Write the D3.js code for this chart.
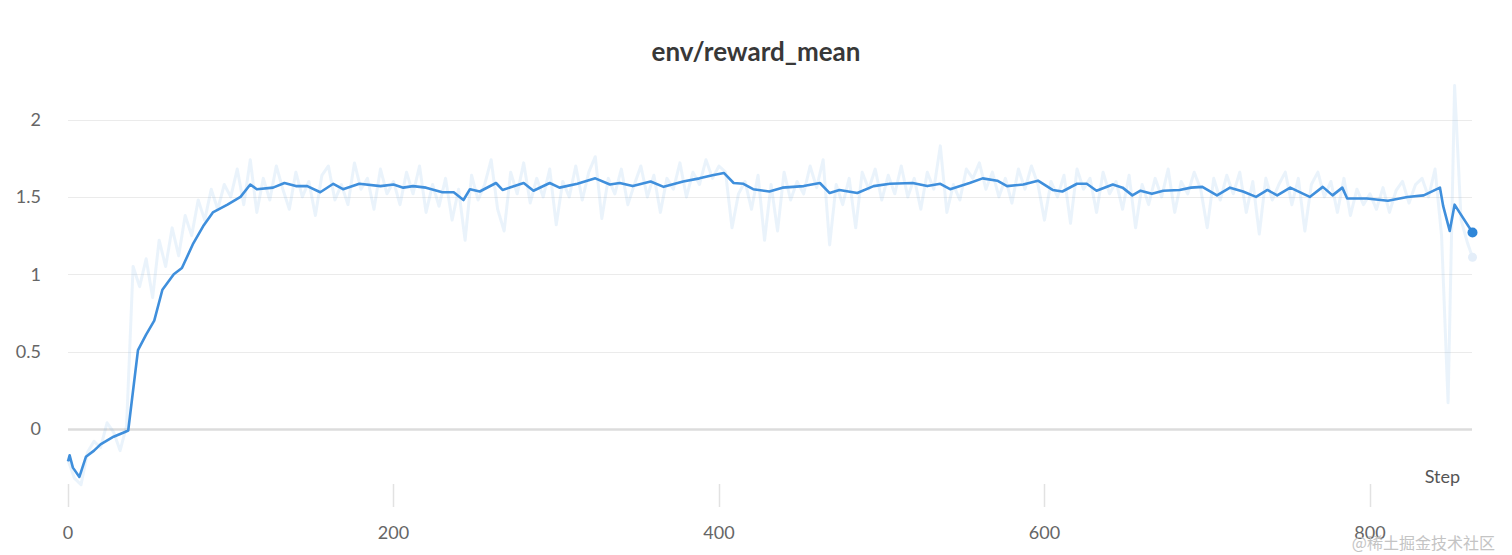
<!DOCTYPE html>
<meta charset="utf-8">
<head>
  <style>
    body { margin: 0; background: #fff; }
    .title { font-family: Lato, "Noto Sans", sans-serif; font-weight: bold; font-size: 26px; fill: #383838; }
    .tick-label { font-family: Lato, "Noto Sans", sans-serif; font-size: 18px; fill: #666; }
  </style>
  <script src="https://cdn.jsdelivr.net/npm/d3@7"></script>
</head>
<body>
<script>

var width = 1512, height = 555;

// smoothed line (step, value)
var smoothSteps = [0, 1, 3, 7, 11, 16, 20, 28, 35, 37, 43, 48, 53, 58, 65, 70, 77, 83, 89, 98,
  106, 112, 116, 126, 133, 140, 147, 155, 163, 169, 179, 192, 200, 206, 212, 220, 230, 237, 243, 247,
  253, 263, 267, 280, 286, 296, 302, 313, 324, 333, 339, 347, 358, 366, 378, 388, 396, 403, 409, 415,
  421, 431, 439, 452, 462, 468, 474, 485, 495, 505, 519, 528, 536, 542, 554, 562, 571, 577, 587, 596,
  605, 611, 620, 626, 632, 642, 648, 654, 659, 666, 673, 683, 690, 697, 706, 714, 722, 730, 737, 743,
  751, 763, 771, 777, 783, 786, 798, 811, 823, 833, 843, 845, 849, 852, 855, 863];
var smoothValues = [-0.21, -0.17, -0.25, -0.31, -0.18, -0.14, -0.10, -0.05, -0.02, -0.01, 0.51, 0.61, 0.70, 0.90, 1.00, 1.04, 1.20, 1.31, 1.40, 1.45,
  1.50, 1.58, 1.55, 1.56, 1.59, 1.57, 1.57, 1.53, 1.585, 1.55, 1.585, 1.57, 1.58, 1.56, 1.57, 1.56, 1.53, 1.53, 1.48, 1.55,
  1.535, 1.59, 1.545, 1.59, 1.54, 1.59, 1.56, 1.585, 1.62, 1.58, 1.59, 1.57, 1.60, 1.565, 1.60, 1.62, 1.64, 1.655, 1.59, 1.585,
  1.55, 1.535, 1.56, 1.57, 1.59, 1.525, 1.545, 1.525, 1.57, 1.585, 1.59, 1.57, 1.585, 1.55, 1.59, 1.62, 1.605, 1.57, 1.58, 1.605,
  1.545, 1.535, 1.585, 1.585, 1.54, 1.58, 1.56, 1.51, 1.54, 1.52, 1.54, 1.545, 1.56, 1.565, 1.51, 1.56, 1.535, 1.50, 1.545, 1.51,
  1.56, 1.50, 1.565, 1.51, 1.56, 1.49, 1.49, 1.475, 1.50, 1.51, 1.56, 1.44, 1.28, 1.45, 1.40, 1.27];

// raw (unsmoothed) values, one every 4 steps from step 0, plus the last step
var rawEvery = 4;
var rawValues = [
  -0.20, -0.32, -0.36, -0.15, -0.08, -0.12, 0.04, -0.02, -0.14, 0.02,
  1.05, 0.92, 1.10, 0.85, 1.22, 1.05, 1.30, 1.12, 1.38, 1.25,
  1.48, 1.35, 1.55, 1.42, 1.58, 1.50, 1.68, 1.45, 1.74, 1.40,
  1.62, 1.48, 1.70, 1.55, 1.42, 1.66, 1.50, 1.60, 1.38, 1.64,
  1.70, 1.48, 1.58, 1.45, 1.72, 1.55, 1.62, 1.42, 1.68, 1.52,
  1.60, 1.45, 1.66, 1.52, 1.70, 1.40, 1.58, 1.44, 1.62, 1.35,
  1.55, 1.22, 1.64, 1.48, 1.58, 1.74, 1.42, 1.28, 1.66, 1.52,
  1.72, 1.46, 1.62, 1.50, 1.68, 1.32, 1.60, 1.50, 1.70, 1.48,
  1.66, 1.76, 1.36, 1.62, 1.52, 1.68, 1.45, 1.58, 1.70, 1.50,
  1.64, 1.40, 1.62, 1.55, 1.72, 1.50, 1.66, 1.58, 1.74, 1.62,
  1.70, 1.66, 1.30, 1.52, 1.60, 1.42, 1.64, 1.22, 1.58, 1.28,
  1.66, 1.48, 1.60, 1.52, 1.70, 1.56, 1.74, 1.19, 1.58, 1.45,
  1.62, 1.30, 1.66, 1.55, 1.68, 1.48, 1.64, 1.52, 1.70, 1.50,
  1.62, 1.42, 1.66, 1.55, 1.83, 1.40, 1.58, 1.48, 1.68, 1.62,
  1.72, 1.55, 1.66, 1.50, 1.62, 1.46, 1.68, 1.55, 1.70, 1.58,
  1.35, 1.60, 1.50, 1.64, 1.33, 1.68, 1.55, 1.62, 1.40, 1.66,
  1.52, 1.60, 1.42, 1.64, 1.30, 1.58, 1.45, 1.62, 1.50, 1.68,
  1.40, 1.60, 1.52, 1.66, 1.55, 1.30, 1.62, 1.48, 1.64, 1.52,
  1.66, 1.40, 1.60, 1.26, 1.62, 1.48, 1.58, 1.66, 1.45, 1.62,
  1.28, 1.58, 1.66, 1.50, 1.60, 1.40, 1.62, 1.38, 1.55, 1.45,
  1.52, 1.42, 1.56, 1.40, 1.54, 1.60, 1.46, 1.58, 1.62, 1.50,
  1.68, 1.25, 0.17, 2.22, 1.35, 1.20];
var rawLastStep = 863, rawLastValue = 1.11;

var yTicks = [0, 0.5, 1, 1.5, 2];
var xTicks = [0, 200, 400, 600, 800];

var raw = rawValues.map(function(v, i) { return [i * rawEvery, v]; });
raw.push([rawLastStep, rawLastValue]);
var smooth = smoothSteps.map(function(s, i) { return [s, smoothValues[i]]; });

var x = d3.scaleLinear().domain([0, 863]).range([68, 1472.5]);
var y = d3.scaleLinear().domain([-0.33, 2.23]).range([480, 84]);

var svg = d3.select("body").append("svg")
    .attr("width", width)
    .attr("height", height);

svg.append("text")
    .attr("class", "title")
    .attr("x", 756).attr("y", 61)
    .attr("text-anchor", "middle")
    .text("env/reward_mean");

// horizontal grid, zero line heavier
svg.append("g").selectAll("line")
    .data(yTicks)
    .enter().append("line")
    .attr("x1", 68).attr("x2", 1472)
    .attr("y1", function(d) { return Math.round(y(d)) + 0.5; })
    .attr("y2", function(d) { return Math.round(y(d)) + 0.5; })
    .style("stroke", function(d) { return d === 0 ? "#dcdcdc" : "#ebebeb"; })
    .style("stroke-width", function(d) { return d === 0 ? 2.5 : 1; });

svg.selectAll(".ylab")
    .data(yTicks)
    .enter().append("text")
    .attr("class", "tick-label")
    .attr("x", 41)
    .attr("y", function(d) { return y(d); })
    .attr("dy", "0.35em")
    .attr("text-anchor", "end")
    .text(function(d) { return d3.format("")(d); });

// x ticks
svg.selectAll(".xtick")
    .data(xTicks)
    .enter().append("line")
    .attr("x1", function(d) { return Math.round(x(d)) + 0.5; })
    .attr("x2", function(d) { return Math.round(x(d)) + 0.5; })
    .attr("y1", 484).attr("y2", 507)
    .style("stroke", "#e2e2e2")
    .style("stroke-width", 1.5);

svg.selectAll(".xlab")
    .data(xTicks)
    .enter().append("text")
    .attr("class", "tick-label")
    .attr("x", function(d) { return x(d); })
    .attr("y", 539)
    .attr("text-anchor", "middle")
    .text(function(d) { return d; });

svg.append("text")
    .attr("class", "tick-label")
    .attr("x", 1460).attr("y", 483)
    .attr("text-anchor", "end")
    .style("fill", "#555")
    .text("Step");

var line = d3.line()
    .x(function(d) { return x(d[0]); })
    .y(function(d) { return y(d[1]); });

// raw values drawn as a faint haze
svg.append("path")
    .datum(raw)
    .attr("d", line)
    .style("fill", "none")
    .style("stroke", "#7fb2e8")
    .style("stroke-opacity", 0.16)
    .style("stroke-width", 3)
    .style("stroke-linejoin", "round");

svg.append("circle")
    .attr("cx", x(rawLastStep)).attr("cy", y(rawLastValue))
    .attr("r", 4.5)
    .style("fill", "#e4eef9");

svg.append("path")
    .datum(smooth)
    .attr("d", line)
    .style("fill", "none")
    .style("stroke", "#3f8fdc")
    .style("stroke-width", 2.6)
    .style("stroke-linejoin", "round");

var last = smooth[smooth.length - 1];
svg.append("circle")
    .attr("cx", x(last[0])).attr("cy", y(last[1]))
    .attr("r", 5)
    .style("fill", "#2f86d8");

// watermark
svg.append("text")
    .attr("x", 1495).attr("y", 549)
    .attr("text-anchor", "end")
    .style("font-family", "'Noto Sans CJK SC', sans-serif")
    .style("font-size", "16px")
    .style("fill", "#c4c4c4")
    .text("@稀土掘金技术社区");

</script>
</body>
